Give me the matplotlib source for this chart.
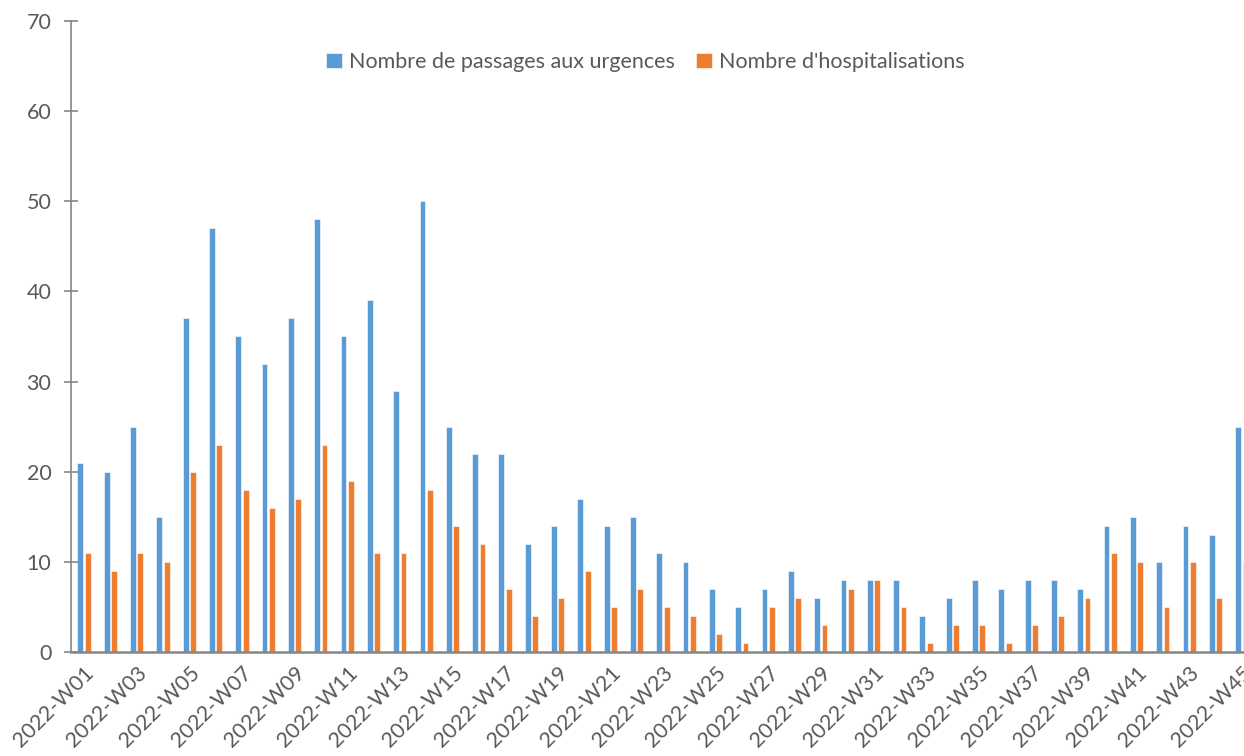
import numpy as np
import matplotlib
matplotlib.use("Agg")
import matplotlib.pyplot as plt

weeks = [f"2022-W{i:02d}" for i in range(1, 46)]
passages = [21, 20, 25, 15, 37, 47, 35, 32, 37, 48, 35, 39, 29, 50, 25, 22, 22, 12, 14, 17,
            14, 15, 11, 10, 7, 5, 7, 9, 6, 8, 8, 8, 4, 6, 8, 7, 8, 8, 7, 14,
            15, 10, 14, 13, 25]
hospitalisations = [11, 9, 11, 10, 20, 23, 18, 16, 17, 23, 19, 11, 11, 18, 14, 12, 7, 4, 6, 9,
                    5, 7, 5, 4, 2, 1, 5, 6, 3, 7, 8, 5, 1, 3, 3, 1, 3, 4, 6, 11,
                    10, 5, 10, 6, 10]

plt.rcParams['font.family'] = ['Lato', 'DejaVu Sans']
text_col = "#595959"
axis_col = "#868686"

fig = plt.figure(figsize=(12.44, 7.56), dpi=100)
ax = fig.add_axes([0.057, 0.1376, 0.9518, 0.8347])

x = np.arange(len(weeks))
w = 0.22
ax.bar(x - 0.14, passages, width=w, color="#5B9BD5", edgecolor="white", linewidth=0.4,
       label="Nombre de passages aux urgences")
ax.bar(x + 0.14, hospitalisations, width=w, color="#ED7D31", edgecolor="white", linewidth=0.4,
       label="Nombre d'hospitalisations")

ax.set_xlim(-0.5, len(weeks) - 0.5)
ax.set_ylim(0, 70)
ax.set_yticks(range(0, 71, 10))
ax.set_xticks(x[::2])
ax.set_xticklabels(weeks[::2], rotation=45, ha="right", rotation_mode="anchor")

for s in ["top", "right"]:
    ax.spines[s].set_visible(False)
ax.spines["left"].set_color(axis_col)
ax.spines["left"].set_linewidth(1.2)
ax.spines["bottom"].set_color(axis_col)
ax.spines["bottom"].set_linewidth(1.8)

ax.tick_params(axis="y", direction="inout", length=10, width=1.2, color=axis_col,
               labelsize=15.5, labelcolor=text_col, pad=9)
ax.tick_params(axis="x", length=0, labelsize=15.5, labelcolor=text_col, pad=8)

ax.legend(loc="center", bbox_to_anchor=(0.485, 0.935), ncol=2, frameon=False,
          fontsize=15.5, labelcolor=text_col, handlelength=0.75, handleheight=0.75,
          handletextpad=0.3, columnspacing=1.0)

fig.savefig("out.png", dpi=100)
